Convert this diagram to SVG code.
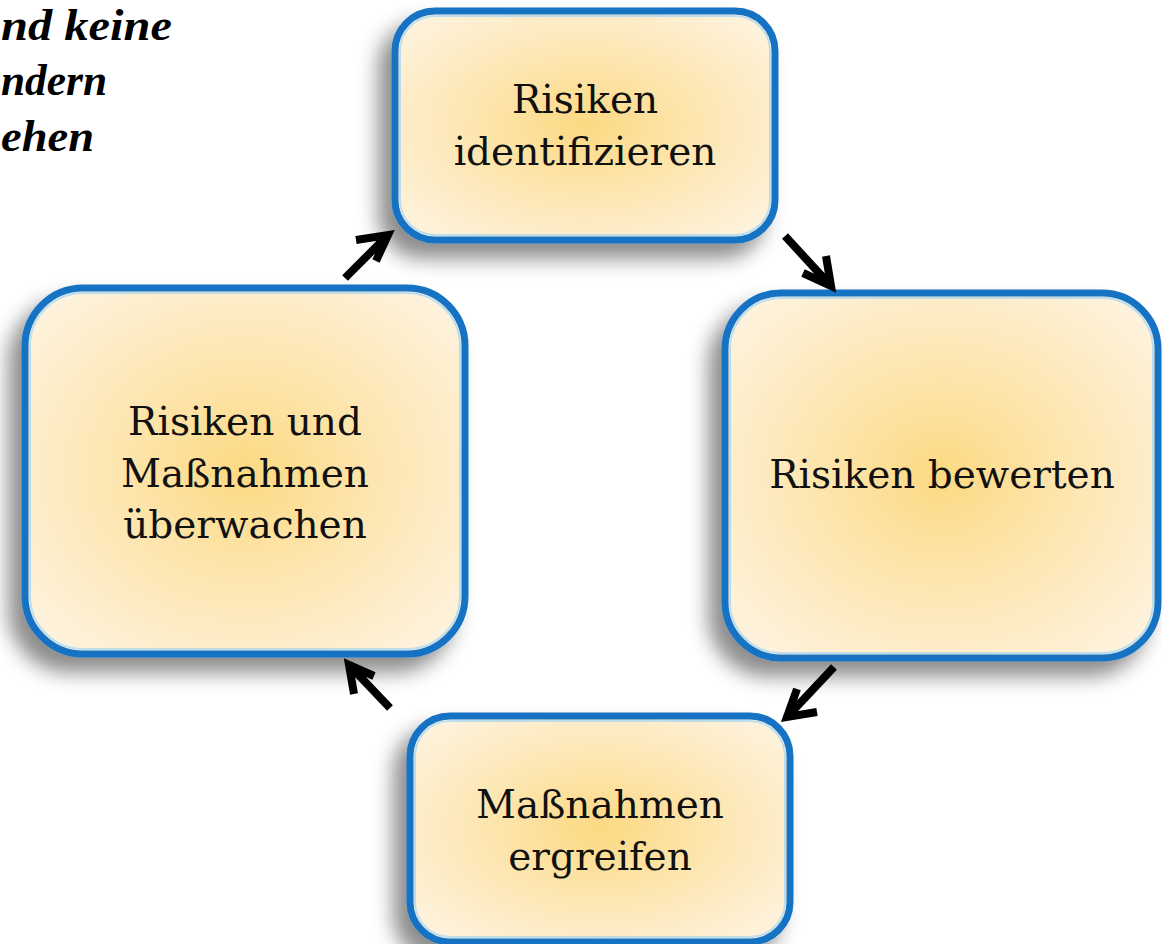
<svg xmlns="http://www.w3.org/2000/svg" width="1162" height="944" viewBox="0 0 1162 944">
<defs>
<radialGradient id="fillG" cx="50%" cy="50%" r="62%">
<stop offset="0" stop-color="#fcd982"/>
<stop offset="0.5" stop-color="#fde6b2"/>
<stop offset="1" stop-color="#fef2dc"/>
</radialGradient>
<filter id="shadow" x="-20%" y="-20%" width="140%" height="150%">
<feDropShadow dx="-13" dy="15" stdDeviation="10" flood-color="#000" flood-opacity="0.45"/>
</filter>
</defs>
<style>
.box{fill:url(#fillG);stroke:#1872c2;stroke-width:7;filter:url(#shadow)}
.hl{fill:none;stroke:#8fd0fa;stroke-width:2;opacity:0.6}
.lbl{font-family:"DejaVu Serif","Liberation Serif",serif;font-size:39px;fill:#111;text-anchor:middle}
.head{font-family:"Liberation Serif","DejaVu Serif",serif;font-size:44px;font-weight:bold;font-style:italic;fill:#000;text-anchor:start}
.arr{fill:none;stroke:#000;stroke-width:8;stroke-linecap:butt;stroke-linejoin:miter}
</style>
<rect width="1162" height="944" fill="#fff"/>
<g id="heading">
<text class="head" x="1" y="40" textLength="171" lengthAdjust="spacingAndGlyphs">nd keine</text>
<text class="head" x="1" y="95" textLength="106" lengthAdjust="spacingAndGlyphs">ndern</text>
<text class="head" x="1" y="151" textLength="93" lengthAdjust="spacingAndGlyphs">ehen</text>
</g>
<g id="node-identify">
<rect class="box" x="395" y="11" width="380" height="229" rx="40"/>
<rect class="hl" x="400" y="16" width="370" height="219" rx="35"/>
<text class="lbl" x="585" y="113">Risiken</text>
<text class="lbl" x="585" y="165">identifizieren</text>
</g>
<g id="node-assess">
<rect class="box" x="725" y="293" width="433" height="365" rx="56"/>
<rect class="hl" x="730" y="298" width="423" height="355" rx="51"/>
<text class="lbl" x="942" y="488">Risiken bewerten</text>
</g>
<g id="node-act">
<rect class="box" x="410" y="716" width="380" height="226" rx="40"/>
<rect class="hl" x="415" y="721" width="370" height="216" rx="35"/>
<text class="lbl" x="600" y="818">Maßnahmen</text>
<text class="lbl" x="600" y="870">ergreifen</text>
</g>
<g id="node-monitor">
<rect class="box" x="25" y="288" width="440" height="366" rx="58"/>
<rect class="hl" x="30" y="293" width="430" height="356" rx="53"/>
<text class="lbl" x="245" y="435">Risiken und</text>
<text class="lbl" x="245" y="487">Maßnahmen</text>
<text class="lbl" x="245" y="538">überwachen</text>
</g>
<g id="connectors">
<path class="arr" d="M345,278 L388,235 M356,240 L388,235 L376,261"/>
<path class="arr" d="M785,236 L831,286 M803,273 L831,286 L826,256"/>
<path class="arr" d="M834,667 L787,717 M797,689 L787,717 L817,712"/>
<path class="arr" d="M390,708 L349,665 M354,694 L349,665 L374,676"/>
</g>
</svg>
